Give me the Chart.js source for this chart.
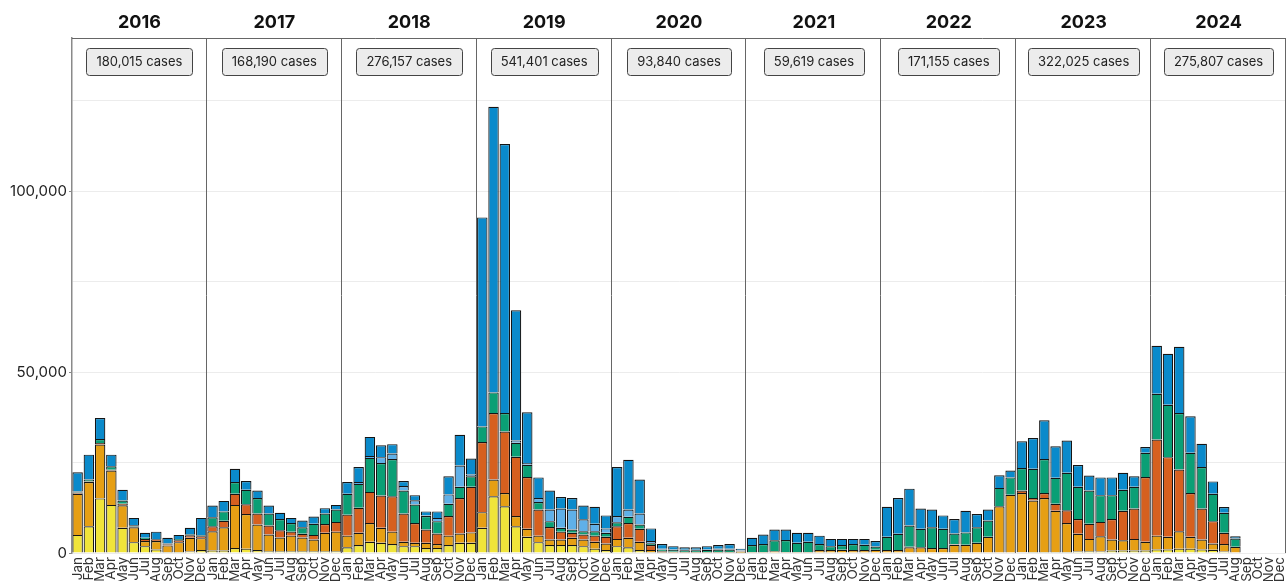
<!DOCTYPE html>
<html>
<head>
<meta charset="utf-8">
<script src="https://cdn.jsdelivr.net/npm/chart.js@4"></script>
<style>
  html, body { margin: 0; padding: 0; background: #fff; overflow: hidden; }
  canvas { display: block; }
</style>
</head>
<body>
<canvas id="chart" width="1288" height="581"></canvas>
<script>
// monthly cases per year, in thousands, stacked bottom -> top
const years = ['2016', '2017', '2018', '2019', '2020', '2021', '2022', '2023', '2024'];
const months = ['Jan', 'Feb', 'Mar', 'Apr', 'May', 'Jun', 'Jul', 'Aug', 'Sep', 'Oct', 'Nov', 'Dec'];
const yearTotals = ['180,015', '168,190', '276,157', '541,401', '93,840', '59,619', '171,155', '322,025', '275,807'];

const yellowSeries = [
  5.0, 7.4, 15.1, 13.3, 7.0, 3.0, 1.9, 1.0, 0.3, 0.3, 0.4, 0.8,
  0.7, 0.7, 1.4, 1.2, 0.8, 0.5, 0.5, 0.5, 0.5, 0.5, 0.5, 0.5,
  1.6, 2.2, 3.1, 2.8, 2.5, 1.9, 1.9, 1.4, 1.4, 2.2, 2.8, 2.8,
  7.0, 15.7, 12.9, 7.4, 4.5, 3.0, 2.2, 2.2, 2.2, 1.9, 1.2, 0.8,
  1.9, 1.6, 0.8, 0.3, 0.1, 0.05, 0.05, 0.05, 0.05, 0.05, 0.05, 0.05,
  0, 0, 0, 0, 0, 0, 0, 0, 0, 0, 0, 0,
  0, 0, 0, 0, 0, 0, 0, 0, 0, 0, 0, 0,
  0.2, 0.3, 0.3, 0.3, 0.3, 0.4, 0.5, 0.4, 0.7, 0.7, 0.7, 0.7,
  1.0, 1.0, 1.2, 1.2, 1.0, 0.9, 0.4, 0, null, null, null, null
];
const orangeSeries = [
  11.4, 12.2, 14.9, 9.5, 6.2, 4.1, 1.4, 2.3, 1.8, 2.7, 3.8, 3.3,
  5.3, 6.4, 11.9, 9.6, 7.1, 4.6, 3.8, 4.3, 3.8, 3.2, 5.1, 5.4,
  3.2, 3.4, 5.2, 4.2, 3.4, 1.2, 0.9, 1.4, 1.1, 2.6, 2.6, 2.9,
  4.3, 4.6, 3.7, 2.8, 2.2, 1.8, 1.5, 1.5, 2.0, 1.8, 1.9, 1.8,
  2.0, 2.6, 2.3, 0.5, 0.1, 0.1, 0.1, 0.1, 0.1, 0.1, 0.1, 0.3,
  0.3, 0.3, 0.5, 0.3, 0.3, 0.3, 0.8, 0.8, 0.9, 0.8, 0.8, 0.9,
  0.8, 0.8, 1.6, 1.6, 1.4, 1.4, 2.3, 2.3, 2.8, 4.5, 12.9, 16.1,
  16.4, 14.2, 14.9, 11.4, 8.0, 4.9, 3.4, 4.2, 3.0, 2.8, 3.2, 2.4,
  3.8, 3.5, 4.8, 3.3, 2.7, 1.7, 2.1, 1.7, null, null, null, null
];
const vermilionSeries = [
  0.3, 0.2, 0.4, 0.2, 0.4, 0.2, 0.6, 0.5, 0.3, 0.5, 0.7, 0.5,
  1.4, 1.8, 3.1, 2.7, 3.0, 2.5, 2.0, 1.1, 1.0, 1.3, 2.4, 2.7,
  5.8, 6.9, 8.6, 8.9, 9.8, 7.8, 5.5, 3.7, 2.9, 5.4, 9.8, 12.6,
  19.4, 18.4, 17.0, 16.4, 14.3, 7.2, 3.5, 2.2, 1.4, 1.4, 1.7, 1.9,
  3.5, 4.1, 3.6, 1.4, 0.3, 0.2, 0.1, 0.1, 0.1, 0.1, 0.1, 0.1,
  0, 0, 0, 0, 0, 0, 0, 0, 0, 0, 0, 0,
  0, 0, 0.1, 0, 0, 0, 0.1, 0, 0, 0, 0, 0,
  0.7, 0.7, 1.4, 1.9, 3.5, 4.1, 4.2, 4.0, 5.7, 8.2, 8.4, 17.9,
  26.6, 22.0, 17.1, 12.1, 8.6, 6.2, 3.1, 0, null, null, null, null
];
const greenSeries = [
  0.3, 0.5, 1.1, 1.0, 0.9, 0.4, 0.3, 0.1, 0.2, 0.4, 0.3, 0.3,
  2.5, 2.6, 3.2, 4.0, 4.3, 3.3, 3.1, 2.4, 1.8, 3.1, 2.9, 3.4,
  5.8, 6.6, 9.4, 9.0, 10.3, 6.4, 5.1, 3.7, 3.4, 3.4, 3.1, 2.9,
  4.3, 5.7, 5.1, 3.9, 3.4, 2.1, 1.6, 1.1, 0.9, 0.9, 1.2, 1.1,
  1.1, 1.7, 1.2, 0.5, 0.5, 0.5, 0.5, 0.5, 0.6, 0.7, 0.7, 0.2,
  1.9, 2.2, 3.0, 3.3, 2.5, 2.8, 1.7, 1.1, 1.3, 1.7, 1.5, 0.9,
  3.7, 4.5, 5.9, 5.1, 5.7, 5.3, 3.0, 3.4, 4.3, 4.5, 5.1, 4.8,
  6.2, 8.1, 9.4, 7.2, 10.4, 8.9, 9.2, 7.4, 6.6, 5.8, 6.0, 6.7,
  12.6, 14.5, 15.6, 11.1, 11.5, 7.6, 5.5, 2.3, null, null, null, null
];
const lightBlueSeries = [
  0, 0, 0, 0, 0, 0, 0, 0, 0, 0, 0, 0,
  0, 0, 0, 0, 0, 0, 0, 0, 0, 0, 0, 0,
  0, 0.5, 0.5, 1.6, 1.5, 1.2, 1.2, 0.2, 0.9, 2.6, 5.9, 0.5,
  0, 0, 0, 0.6, 0.5, 1.1, 3.2, 5.3, 5.5, 3.3, 2.1, 1.2,
  1.7, 2.0, 3.0, 0.6, 0.2, 0.2, 0.15, 0.15, 0.2, 0.2, 0.2, 0.1,
  0, 0, 0, 0, 0, 0, 0, 0, 0, 0, 0, 0,
  0, 0, 0, 0, 0, 0, 0, 0, 0, 0, 0, 0,
  0, 0, 0, 0, 0, 0, 0, 0, 0, 0, 0, 0,
  0, 0, 0, 0, 0, 0, 0, 0, null, null, null, null
];
const blueSeries = [
  5.3, 6.9, 5.8, 3.2, 3.0, 2.0, 1.4, 2.0, 1.6, 1.1, 1.8, 4.8,
  3.2, 2.9, 3.7, 2.4, 2.1, 2.2, 1.7, 1.4, 1.9, 2.0, 1.5, 1.3,
  3.2, 4.2, 5.3, 3.3, 2.6, 1.4, 1.4, 1.1, 1.8, 5.0, 8.5, 4.4,
  57.8, 79.0, 74.4, 36.0, 14.0, 5.7, 5.3, 3.2, 3.2, 3.8, 4.7, 3.6,
  13.6, 13.8, 9.4, 3.5, 1.3, 0.85, 0.7, 0.7, 0.85, 1.05, 1.35, 0.45,
  2.0, 2.6, 3.0, 2.9, 2.8, 2.5, 2.3, 2.0, 1.7, 1.4, 1.6, 1.5,
  8.3, 9.9, 10.2, 5.6, 4.9, 3.7, 4.0, 6.0, 3.7, 3.0, 3.5, 1.9,
  7.4, 8.5, 10.7, 8.7, 8.9, 6.0, 4.1, 4.9, 4.9, 4.7, 2.9, 1.6,
  13.3, 14.1, 18.3, 10.1, 6.4, 3.4, 1.6, 0.6, null, null, null, null
];

const labels = [];
years.forEach(() => months.forEach(m => labels.push(m)));

const FONT = "Inter, 'DejaVu Sans', sans-serif";
Chart.defaults.font.family = FONT;

// year headers, case-count boxes and panel separators
const yearPanels = {
  id: 'yearPanels',
  afterDatasetsDraw(chart) {
    const { ctx, chartArea, scales: { x } } = chart;
    const n = years.length * 12;
    const edge = i => i === 0 ? chartArea.left
      : i === n ? chartArea.right
      : (x.getPixelForValue(i - 1) + x.getPixelForValue(i)) / 2;

    ctx.save();
    ctx.strokeStyle = '#666';
    ctx.lineWidth = 1;
    ctx.beginPath();
    ctx.moveTo(chartArea.left, chartArea.top + 0.5);
    ctx.lineTo(chartArea.right, chartArea.top + 0.5);
    ctx.stroke();

    years.forEach((yr, k) => {
      const x0 = edge(k * 12), x1 = edge(k * 12 + 12);
      const sx = Math.round(x1) - 0.5;
      ctx.strokeStyle = '#666';
      ctx.beginPath();
      ctx.moveTo(sx, chartArea.top);
      ctx.lineTo(sx, chartArea.bottom);
      ctx.stroke();

      const cx = (x0 + x1) / 2;
      ctx.textAlign = 'center';
      ctx.textBaseline = 'middle';
      ctx.fillStyle = '#111';
      ctx.font = 'bold 18px ' + FONT;
      ctx.fillText(yr, cx, 23);

      const text = yearTotals[k] + ' cases';
      ctx.font = '13px ' + FONT;
      const w = Math.round(ctx.measureText(text).width + 20);
      ctx.beginPath();
      ctx.roundRect(Math.round(cx - w / 2) + 0.5, 48.5, w, 27, 3);
      ctx.fillStyle = '#ececec';
      ctx.fill();
      ctx.strokeStyle = '#444';
      ctx.stroke();
      ctx.fillStyle = '#222';
      ctx.fillText(text, cx, 62.5);
    });
    ctx.restore();
  }
};

function makeSet(data, color) {
  return {
    data: data,
    backgroundColor: color,
    borderColor: '#151515',
    borderWidth: 1.2,
    barPercentage: 0.93,
    categoryPercentage: 1.0,
  };
}

new Chart(document.getElementById('chart'), {
  type: 'bar',
  data: {
    labels: labels,
    datasets: [
      makeSet(yellowSeries, '#F0E43A'),
      makeSet(orangeSeries, '#E69F14'),
      makeSet(vermilionSeries, '#D6601F'),
      makeSet(greenSeries, '#0A9F75'),
      makeSet(lightBlueSeries, '#5FB0E8'),
      makeSet(blueSeries, '#0A8ACB'),
    ]
  },
  options: {
    responsive: false,
    animation: false,
    layout: { padding: { top: 38, right: 2, left: 0, bottom: 0 } },
    plugins: {
      legend: { display: false },
      tooltip: { enabled: false },
    },
    scales: {
      x: {
        stacked: true,
        afterFit: scale => {
          scale.height = 28;
          scale.paddingLeft = 0;
          scale.paddingRight = 0;
        },
        grid: { display: false, drawTicks: true, tickLength: 3 },
        border: { display: false },
        ticks: {
          autoSkip: false,
          minRotation: 90,
          maxRotation: 90,
          padding: 1,
          color: '#333',
          font: { size: 13.5 },
        },
      },
      y: {
        stacked: true,
        min: 0,
        max: 142.4,
        afterFit: scale => { scale.width = 72; },
        grid: {
          color: '#ececec',
          tickLength: 3,
          tickColor: c => (c.tick && c.tick.value % 50 === 0) ? '#888' : 'rgba(0,0,0,0)',
        },
        border: { display: true, color: '#8a8a8a', width: 1.5 },
        ticks: {
          stepSize: 25,
          padding: 2,
          color: '#222',
          font: { size: 15 },
          callback: v => v % 50 === 0 ? (v * 1000).toLocaleString('en-US') : '',
        },
      },
    },
  },
  plugins: [yearPanels],
});
</script>
</body>
</html>
